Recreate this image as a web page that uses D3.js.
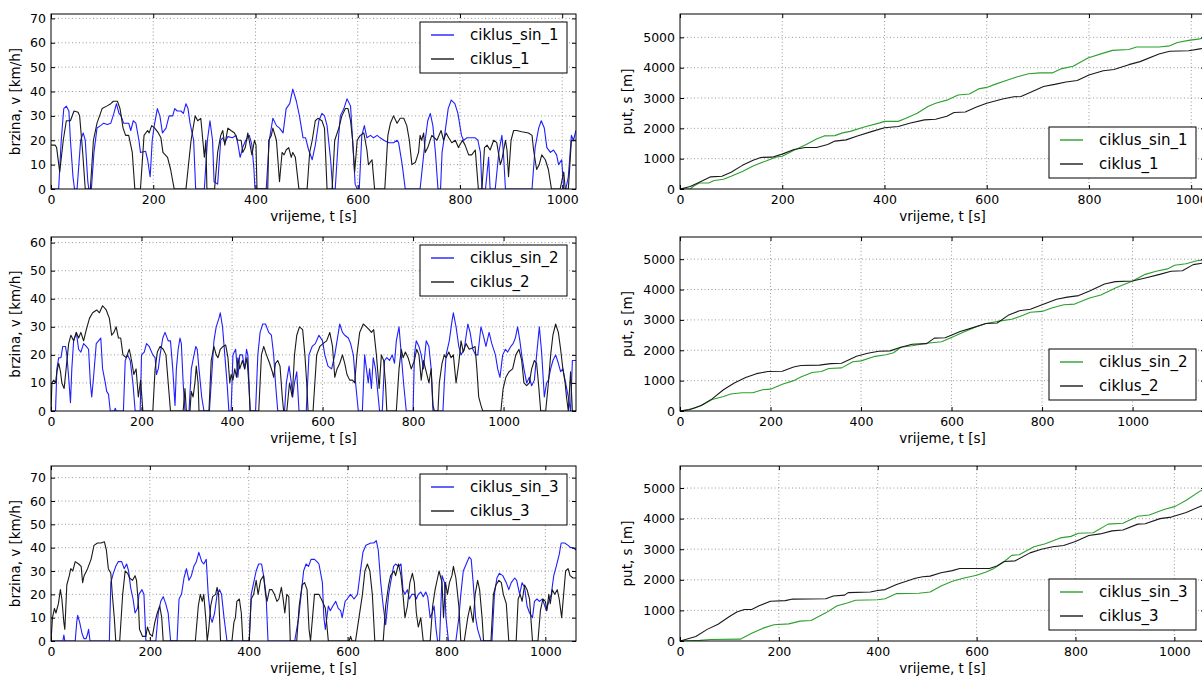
<!DOCTYPE html>
<html><head><meta charset="utf-8">
<script src="https://cdn.jsdelivr.net/npm/d3@7"></script>
<style>body{margin:0;background:#fff;overflow:hidden}</style>
</head><body>
<script>
// ---------- DATA ----------
const xTicks = [0, 200, 400, 600, 800, 1000];
const speedTicks1 = [0, 10, 20, 30, 40, 50, 60, 70];
const speedTicks2 = [0, 10, 20, 30, 40, 50, 60];
const speedTicks3 = [0, 10, 20, 30, 40, 50, 60, 70];
const distTicks = [0, 1000, 2000, 3000, 4000, 5000];
const cycleEnd = [1027, 1160, 1062];
const speedMax = [71.8, 62, 75];
const distMax = [5770, 5730, 5720];
const sinNames = ["ciklus_sin_1", "ciklus_sin_2", "ciklus_sin_3"];
const cycNames = ["ciklus_1", "ciklus_2", "ciklus_3"];

const ciklus1 = [[0,18],[8,18],[11,17],[17,7],[24,20],[30,28],[38,28],[45,32],[53,31.5],[56,30],[62,15],[67,0],[77,0],[83,20],[90,27],[100,33],[109,34],[117,35],[122,36],[130,36],[135,33],[141,25],[146,22],[152,22],[159,15],[164,0],[175,0],[182,22],[189,24],[192,23],[197,26],[203,25],[210,23],[215,21],[219,15],[228,13],[234,8],[241,0],[264,0],[274,20],[282,30],[287,28],[293,29],[297,20],[300,13],[303,20],[305,0],[320,0],[326,15],[332,22],[336,24],[340,18],[346,25],[352,24],[359,23],[365,20],[372,20],[375,15],[380,17],[385,23],[393,14],[398,20],[401,18],[403,0],[424,0],[426,20],[431,22],[434,25],[441,20],[447,3],[452,15],[456,14],[460,16],[465,17],[470,13],[473,15],[478,13],[485,0],[501,0],[506,15],[511,20],[517,28],[522,29],[530,28],[535,25],[540,0],[550,0],[555,20],[563,25],[569,30],[576,33],[581,33],[586,28],[590,20],[594,7],[599,20],[605,22],[612,23],[618,16],[621,10],[628,12],[633,0],[653,0],[659,22],[664,27],[670,30],[677,27],[683,29],[690,29],[696,26],[701,20],[706,10],[713,11],[719,15],[722,22],[725,20],[729,23],[732,15],[737,17],[745,22],[755,20],[763,24],[768,20],[773,23],[778,21],[784,19],[791,20],[797,17],[805,20],[810,18],[817,14],[823,14],[830,16],[836,0],[843,0],[848,17],[853,18],[859,16],[866,20],[872,19],[879,10],[882,12],[889,20],[892,16],[895,5],[900,20],[905,24],[911,24],[921,23.5],[934,23],[941,22],[944,16],[950,8],[955,10],[960,14],[967,12],[973,8],[979,0],[996,0],[1003,7],[1006,0],[1012,0],[1018,20],[1022,20],[1027,20]];
const ciklusSin1 = [[0,0],[15,0],[20,20],[25,33],[30,34],[35,32],[38,20],[43,5],[46,0],[51,0],[58,20],[63,23],[67,20],[72,3],[74,0],[79,0],[84,15],[90,25],[97,26],[103,27],[110,26.5],[117,27],[123,31],[128,35],[133,31],[137,30],[142,27],[152,27],[156,24],[161,28],[166,27],[172,20],[175,15],[185,15.5],[189,12],[194,5],[198,20],[202,26],[208,33],[213,30],[218,23],[225,25],[231,30],[238,30],[242,33],[247,32],[254,32],[259,31],[264,35],[268,33],[272,27],[279,20],[283,0],[300,0],[306,20],[311,28],[316,20],[319,3],[326,2],[332,20],[336,21],[340,19],[346,21.5],[355,21],[362,22],[366,18],[370,13],[375,17],[381,20],[388,22],[393,18],[397,8],[399,0],[421,0],[427,20],[434,29],[441,26],[447,25],[454,23],[460,33],[467,35],[473,41],[480,36],[486,30],[493,21],[498,21],[504,16],[511,12],[517,18],[524,28],[530,31],[535,30],[540,26],[547,12],[551,0],[556,0],[562,20],[566,30],[573,33],[579,37],[586,34],[590,20],[595,2],[599,0],[603,0],[608,22],[613,26],[618,21],[625,22],[631,21],[638,22],[644,21],[651,20],[661,19],[670,19],[677,20],[680,19],[687,10],[693,0],[722,0],[727,10],[732,20],[737,28],[742,31],[747,26],[752,15],[757,0],[762,0],[765,15],[770,22],[777,33],[783,36.5],[790,35],[796,31],[803,22],[807,20],[814,21],[820,21],[830,21],[835,20],[840,15],[843,0],[850,0],[856,13],[859,0],[869,0],[876,15],[882,22],[885,15],[889,0],[941,0],[947,17],[954,25],[959,28],[965,25],[970,17],[977,15],[983,16],[989,14],[993,10],[999,12],[1003,0],[1007,0],[1012,5],[1018,22],[1022,20],[1027,24]];

const ciklus2 = [[0,0],[2,10],[6,11],[10,10],[13,14],[17,17],[21,14],[24,10],[29,8],[34,16],[39,24],[44,27],[50,25],[56,28],[61,26],[66,28],[72,25],[78,29],[85,33],[92,35],[101,36],[107,35],[114,37.5],[122,36],[129,33],[134,27],[139,28],[144,30],[149,26],[154,26],[159,20],[166,19],[173,22],[178,18],[183,13],[188,15],[193,5],[198,11],[203,0],[225,0],[230,15],[235,21],[241,23],[248,22],[254,20],[259,10],[264,0],[292,0],[296,8],[299,0],[307,0],[310,7],[314,5],[318,10],[321,16],[325,10],[327,0],[349,0],[354,18],[360,23],[365,20],[369,19],[374,22],[380,23],[386,23.5],[391,19],[395,10],[398,13],[402,11],[406,15],[410,12],[413,19],[417,15],[423,18],[428,15],[433,19],[437,10],[440,0],[459,0],[465,20],[470,23],[476,20],[483,17],[489,14],[492,12],[496,17],[501,18],[506,16],[511,5],[514,0],[521,0],[527,10],[533,5],[538,20],[543,27],[549,30],[556,29],[561,20],[565,10],[568,0],[579,0],[587,20],[594,23],[601,24],[609,25],[616,28],[622,23],[627,12],[632,15],[638,17],[644,20],[649,17],[654,13],[660,11],[666,11],[671,10],[676,20],[682,28],[690,31],[697,30],[703,29],[708,28],[713,29],[719,20],[725,8],[730,20],[735,18],[739,10],[742,0],[763,0],[769,15],[774,22],[778,19],[783,21],[789,19],[796,15],[803,18],[808,22],[813,20],[818,11],[823,18],[829,14],[835,10],[840,15],[844,2],[847,0],[855,0],[858,10],[864,17],[869,20],[873,19],[879,21],[884,19],[889,20],[895,10],[901,17],[906,25],[911,21],[917,24],[924,22],[932,22.5],[937,23],[941,15],[945,5],[950,2],[954,0],[994,0],[999,8],[1005,12],[1012,14],[1020,15],[1027,20],[1034,22],[1040,18],[1045,10],[1051,9],[1057,10],[1062,15],[1068,18],[1073,17],[1077,10],[1082,0],[1093,0],[1099,10],[1104,20],[1109,27],[1115,31],[1121,28],[1126,22],[1131,15],[1136,10],[1139,5],[1143,0],[1148,14],[1152,0],[1160,0]];
const ciklusSin2 = [[0,0],[10,0],[13,15],[17,19],[22,19],[26,23],[32,23],[35,20],[39,12],[43,3],[46,15],[50,25],[56,28],[61,22],[66,21],[72,24],[78,23],[83,22],[87,10],[90,5],[94,12],[100,24],[105,25],[110,26],[114,15],[120,10],[123,7],[127,6],[131,0],[140,0],[142,1],[144,0],[160,0],[164,18],[169,20],[175,18],[181,10],[186,0],[197,0],[200,20],[206,21],[211,24],[217,23],[225,20],[230,19],[233,13],[237,15],[241,20],[247,26],[252,28],[259,25],[264,25],[269,15],[274,2],[277,15],[281,22],[285,26],[288,24],[292,10],[296,0],[305,0],[310,15],[316,20],[320,23],[323,22],[327,15],[333,5],[338,0],[350,0],[354,10],[360,25],[365,30],[371,33],[374,35],[379,30],[384,20],[389,10],[393,0],[398,0],[402,20],[408,22],[413,12],[417,20],[423,20],[428,15],[432,22],[435,20],[440,0],[452,0],[457,20],[462,28],[468,31],[474,31],[481,28],[487,27],[492,20],[496,10],[501,0],[516,0],[520,10],[526,16],[531,10],[534,5],[538,10],[543,14],[548,0],[564,0],[570,20],[577,23],[584,24],[592,27],[600,25],[605,20],[612,16],[620,15],[627,20],[632,25],[638,31],[644,28],[649,27],[657,26],[662,24],[668,20],[673,10],[679,0],[688,0],[693,20],[697,15],[701,10],[704,15],[708,8],[712,19],[717,15],[723,5],[726,0],[732,0],[737,18],[742,19],[748,18],[754,20],[759,17],[763,25],[769,30],[774,20],[779,10],[785,0],[800,0],[803,20],[807,25],[813,23],[818,20],[823,15],[829,25],[835,23],[840,15],[844,0],[866,0],[869,10],[873,20],[880,25],[886,32],[889,35],[895,30],[901,23],[906,20],[913,22],[921,31],[926,28],[932,22],[938,20],[943,20],[950,30],[955,27],[961,23],[968,28],[974,24],[982,20],[987,15],[992,12],[998,20],[1004,22],[1009,21],[1016,23],[1021,24],[1026,26],[1031,30],[1036,25],[1040,20],[1045,15],[1051,10],[1057,12],[1062,9],[1068,11],[1073,20],[1079,30],[1084,21],[1090,5],[1095,10],[1099,11],[1104,15],[1109,18],[1115,20],[1121,17],[1126,14],[1131,15],[1137,10],[1143,5],[1148,0],[1152,18],[1160,18]];

const ciklus3 = [[0,0],[3,10],[7,14],[10,12],[15,16],[19,22],[22,18],[26,8],[28,5],[32,24],[37,28],[40,31],[44,30],[49,34],[56,33],[61,32],[64,25],[67,28],[74,31],[81,35],[87,41],[94,42],[101,42],[108,42.5],[112,39],[116,31],[121,29],[124,20],[128,10],[131,0],[139,0],[145,20],[150,30],[155,29],[159,27],[165,26],[170,28],[173,26],[177,15],[179,5],[185,2],[192,2],[195,6],[200,3],[205,2],[210,8],[215,12],[220,15],[224,10],[227,0],[292,0],[298,15],[302,20],[306,17],[309,20],[313,10],[316,0],[319,5],[323,15],[327,19],[333,20],[336,23],[339,20],[343,0],[366,0],[370,8],[373,10],[376,17],[381,18],[385,12],[388,0],[401,0],[405,18],[410,20],[415,26],[419,20],[424,26],[430,28],[434,20],[437,17],[442,22],[447,22],[452,20],[457,17],[461,18],[466,23],[469,19],[473,12],[477,20],[481,19],[484,0],[497,0],[502,15],[508,24],[513,25],[518,22],[522,5],[525,0],[529,10],[533,20],[538,20],[542,20],[549,17],[555,14],[561,0],[603,0],[606,2],[609,0],[616,0],[623,10],[630,20],[635,30],[640,33],[645,30],[650,20],[655,0],[672,0],[677,15],[683,24],[687,28],[694,30],[697,28],[703,33],[708,28],[712,20],[716,10],[721,15],[726,25],[731,29],[735,25],[739,12],[743,6],[748,10],[753,0],[767,0],[772,15],[777,22],[782,27],[785,30],[791,25],[794,10],[798,25],[802,20],[806,25],[811,28],[814,32],[819,27],[825,15],[829,0],[836,0],[843,10],[848,15],[852,10],[854,8],[858,20],[863,26],[867,22],[872,10],[875,0],[890,0],[895,20],[900,24],[906,26],[911,25],[915,20],[921,16],[926,0],[941,0],[945,18],[949,20],[953,17],[958,24],[963,22],[968,18],[974,0],[985,0],[990,13],[995,18],[1000,17],[1003,13],[1007,20],[1010,16],[1014,22],[1019,20],[1024,22],[1028,18],[1033,10],[1037,20],[1041,30],[1046,31],[1050,28],[1056,27],[1062,27]];
const ciklusSin3 = [[0,0],[24,0],[26,2.5],[28,0],[49,0],[52,8],[54,11],[58,8],[63,3],[67,1],[71,1],[74,3],[76,5],[79,0],[118,0],[121,25],[126,29],[131,32],[136,34],[143,34],[148,31],[153,33],[157,30],[161,23],[166,18],[170,12],[175,14],[178,20],[184,22],[188,20],[192,0],[212,0],[217,12],[222,17],[227,19],[232,16],[237,12],[242,0],[255,0],[259,18],[264,20],[269,27],[274,31],[279,26],[284,28],[289,32],[294,34],[299,38],[305,34],[309,33],[314,35],[318,20],[323,10],[326,8],[331,12],[336,20],[341,22],[345,20],[350,10],[356,0],[401,0],[405,20],[410,25],[415,30],[420,33],[426,33],[430,28],[435,20],[439,0],[493,0],[497,5],[501,10],[506,20],[511,30],[516,33],[521,32],[526,35],[533,35],[538,34],[542,33],[549,25],[552,10],[555,5],[561,15],[565,13],[570,15],[576,17],[581,14],[586,13],[589,10],[595,17],[599,18],[606,20],[613,18],[620,20],[626,30],[631,38],[637,41],[647,42],[653,42],[658,43],[662,39],[667,25],[672,15],[677,7],[683,20],[687,25],[693,32],[697,33],[703,32],[708,33],[712,22],[716,20],[721,22],[725,18],[730,20],[735,20],[739,18],[743,20],[748,21],[753,19],[758,21],[762,19],[767,10],[771,12],[775,15],[779,5],[782,0],[786,0],[791,28],[796,25],[799,10],[804,0],[819,0],[825,10],[829,20],[834,30],[840,33],[846,36],[850,35],[854,25],[859,10],[863,5],[870,0],[892,0],[897,20],[902,27],[907,29],[914,28],[921,25],[926,22],[931,25],[938,27],[942,26],[948,20],[953,25],[958,23],[963,15],[968,12],[974,10],[978,17],[983,18],[988,17],[994,18],[999,15],[1002,13],[1007,17],[1012,20],[1017,28],[1022,32],[1028,37],[1032,42],[1039,42],[1046,41],[1051,40],[1056,40],[1062,39]];

const putSin1 = [[0,0],[20,0],[27,100],[38,200],[56,200],[67,280],[85,320],[100,420],[122,580],[143,760],[172,950],[187,1050],[200,1080],[223,1280],[245,1450],[267,1650],[282,1750],[303,1760],[318,1850],[333,1900],[362,2050],[391,2180],[400,2230],[427,2230],[442,2330],[464,2500],[485,2720],[500,2830],[522,2930],[544,3100],[566,3130],[584,3300],[600,3350],[616,3450],[638,3580],[660,3700],[682,3800],[704,3830],[729,3830],[747,3970],[769,4050],[798,4320],[828,4480],[846,4570],[878,4600],[893,4680],[937,4680],[958,4720],[973,4830],[995,4900],[1017,4950],[1027,5000]];
const put1 = [[0,0],[20,80],[41,250],[60,400],[82,420],[100,550],[122,780],[143,950],[158,1040],[180,1050],[200,1150],[223,1300],[245,1370],[267,1370],[289,1470],[303,1580],[325,1620],[347,1750],[376,1900],[400,2020],[427,2060],[449,2170],[478,2280],[500,2300],[522,2400],[536,2520],[558,2540],[580,2700],[600,2830],[631,2970],[653,3040],[667,3050],[697,3270],[711,3380],[733,3450],[755,3530],[777,3580],[800,3760],[828,3900],[849,3940],[878,4100],[900,4200],[937,4450],[958,4540],[995,4560],[1017,4620],[1027,4650]];
const putSin2 = [[0,0],[30,80],[47,180],[71,380],[96,480],[112,560],[137,600],[161,600],[182,700],[200,720],[226,880],[251,1000],[267,1120],[292,1270],[312,1300],[329,1400],[357,1420],[382,1620],[400,1650],[431,1800],[455,1850],[472,1920],[488,2100],[513,2150],[545,2230],[578,2280],[601,2430],[627,2600],[652,2760],[676,2880],[701,2950],[733,3020],[758,3150],[774,3250],[800,3280],[823,3400],[848,3500],[872,3520],[905,3720],[930,3820],[962,4050],[1000,4280],[1028,4500],[1052,4600],[1077,4680],[1093,4800],[1118,4850],[1142,4950],[1160,4980]];
const put2 = [[0,0],[20,40],[47,180],[71,400],[96,700],[120,920],[145,1100],[169,1230],[194,1300],[226,1310],[251,1450],[267,1500],[308,1510],[333,1560],[357,1570],[390,1800],[415,1900],[439,1970],[464,1980],[488,2100],[513,2200],[545,2220],[562,2400],[586,2410],[619,2620],[644,2730],[676,2880],[701,2900],[725,3150],[750,3300],[774,3350],[800,3500],[832,3680],[856,3750],[881,3800],[905,3950],[938,4180],[962,4260],[1000,4280],[1028,4380],[1060,4500],[1085,4600],[1110,4620],[1134,4820],[1160,4880]];
const putSin3 = [[0,0],[40,20],[62,50],[122,60],[145,250],[168,420],[190,530],[220,560],[243,650],[265,670],[295,920],[318,1150],[340,1250],[355,1330],[400,1350],[415,1380],[438,1550],[483,1560],[506,1600],[528,1800],[551,1950],[573,2050],[600,2150],[618,2250],[633,2350],[656,2600],[671,2800],[686,2820],[716,3080],[739,3180],[769,3370],[791,3420],[806,3520],[836,3540],[866,3820],[896,3850],[926,4080],[949,4120],[979,4300],[1002,4400],[1024,4600],[1052,4900],[1062,4950]];
const put3 = [[0,0],[32,150],[55,380],[77,550],[100,800],[115,950],[130,1030],[145,1030],[160,1150],[183,1300],[213,1320],[228,1370],[295,1380],[310,1470],[333,1500],[340,1580],[385,1600],[400,1650],[415,1680],[438,1850],[476,2050],[491,2100],[506,2120],[528,2230],[551,2300],[566,2370],[626,2370],[641,2450],[656,2600],[678,2620],[708,2880],[731,3000],[754,3080],[776,3120],[800,3250],[827,3450],[850,3500],[874,3600],[896,3630],[926,3820],[941,3830],[971,4000],[994,4050],[1024,4200],[1052,4400],[1062,4420]];

// ---------- LAYOUT ----------
const W = 1202, H = 676;
const rows = [{top:14, bottom:189}, {top:237, bottom:411}, {top:466, bottom:641}];
const colLeft = [51, 680];
const panelW = 525;
const BLUE = "#1f1fff", BLACK = "#1a1a1a", GREEN = "#2ca02c";

const svg = d3.select("body").append("svg")
  .attr("width", W).attr("height", H)
  .style("font-family", "'DejaVu Sans', sans-serif");

let clipId = 0;
function panel(opt) {
  const {x0, top, bottom, xmax, ymax, yTicks, series, ylabel, legendPos} = opt;
  const x = d3.scaleLinear().domain([0, xmax]).range([x0, x0 + panelW]);
  const y = d3.scaleLinear().domain([0, ymax]).range([bottom, top]);
  const g = svg.append("g");

  // grid
  const grid = g.append("g").attr("stroke", "#808080").attr("stroke-width", 0.8)
    .attr("stroke-dasharray", "1,2.5");
  xTicks.filter(t => t > 0 && t < xmax).forEach(t => {
    grid.append("line").attr("x1", x(t)).attr("x2", x(t)).attr("y1", top).attr("y2", bottom);
  });
  yTicks.filter(t => t > 0 && t < ymax).forEach(t => {
    grid.append("line").attr("x1", x0).attr("x2", x0 + panelW).attr("y1", y(t)).attr("y2", y(t));
  });

  // lines
  const id = "clip" + (clipId++);
  g.append("clipPath").attr("id", id).append("rect")
    .attr("x", x0).attr("y", top).attr("width", panelW).attr("height", bottom - top);
  const line = d3.line().x(d => x(d[0])).y(d => y(d[1]));
  series.forEach(s => {
    g.append("path").attr("clip-path", `url(#${id})`).datum(s.data)
      .attr("fill", "none").attr("stroke", s.color).attr("stroke-width", 1.1)
      .attr("stroke-linejoin", "round").attr("d", line);
  });

  // axes
  const ax = g.append("g").attr("font-size", 12.5);
  const bottomAxis = d3.axisBottom(x).tickValues(xTicks).tickSizeInner(-4).tickSizeOuter(0).tickPadding(6).tickFormat(d3.format("d"));
  const ab = ax.append("g").attr("transform", `translate(0,${bottom})`).call(bottomAxis);
  const leftAxis = d3.axisLeft(y).tickValues(yTicks).tickSizeInner(-4).tickSizeOuter(0).tickPadding(5).tickFormat(d3.format("d"));
  const al = ax.append("g").attr("transform", `translate(${x0},0)`).call(leftAxis);
  const at = ax.append("g").attr("transform", `translate(0,${top})`).call(d3.axisTop(x).tickValues(xTicks).tickSizeInner(-4).tickSizeOuter(0).tickFormat(""));
  const ar = ax.append("g").attr("transform", `translate(${x0 + panelW},0)`).call(d3.axisRight(y).tickValues(yTicks).tickSizeInner(-4).tickSizeOuter(0).tickFormat(""));
  [ab, al, at, ar].forEach(a => {
    a.select(".domain").remove();
    a.attr("font-family", null).attr("font-size", null);
    a.selectAll("text").attr("fill", "#000");
    a.selectAll("line").attr("stroke", "#000");
  });

  // frame
  g.append("rect").attr("x", x0).attr("y", top).attr("width", panelW).attr("height", bottom - top)
    .attr("fill", "none").attr("stroke", "#000").attr("stroke-width", 1);

  // labels
  g.append("text").attr("x", x0 + panelW / 2).attr("y", bottom + 32)
    .attr("text-anchor", "middle").attr("font-size", 13.5).text("vrijeme, t [s]");
  const ly = (top + bottom) / 2;
  g.append("text").attr("transform", `translate(${x0 - opt.ylabelOff},${ly}) rotate(-90)`)
    .attr("text-anchor", "middle").attr("font-size", 13.5).text(ylabel);

  // legend
  const lw = 147, lh = 51;
  const lx = legendPos.x, lyTop = legendPos.y;
  const lg = g.append("g");
  lg.append("rect").attr("x", lx).attr("y", lyTop).attr("width", lw).attr("height", lh)
    .attr("fill", "#fff").attr("stroke", "#000").attr("stroke-width", 1);
  series.forEach((s, i) => {
    const yy = lyTop + 13 + i * 24;
    lg.append("line").attr("x1", lx + 11).attr("x2", lx + 34).attr("y1", yy).attr("y2", yy)
      .attr("stroke", s.color).attr("stroke-width", 1.4);
    lg.append("text").attr("x", lx + 50).attr("y", yy).attr("dy", "0.35em")
      .attr("font-size", 15).text(s.name);
  });
}

const speedSets = [[ciklusSin1, ciklus1], [ciklusSin2, ciklus2], [ciklusSin3, ciklus3]];
const distSets = [[putSin1, put1], [putSin2, put2], [putSin3, put3]];
const speedTickSets = [speedTicks1, speedTicks2, speedTicks3];

rows.forEach((r, i) => {
  panel({
    x0: colLeft[0], top: r.top, bottom: r.bottom, xmax: cycleEnd[i], ymax: speedMax[i],
    yTicks: speedTickSets[i], ylabel: "brzina, v [km/h]", ylabelOff: 31,
    series: [
      {name: sinNames[i], data: speedSets[i][0], color: BLUE},
      {name: cycNames[i], data: speedSets[i][1], color: BLACK}
    ],
    legendPos: {x: colLeft[0] + panelW - 156, y: r.top + 8}
  });
  panel({
    x0: colLeft[1], top: r.top, bottom: r.bottom, xmax: cycleEnd[i], ymax: distMax[i],
    yTicks: distTicks, ylabel: "put, s [m]", ylabelOff: 48,
    series: [
      {name: sinNames[i], data: distSets[i][0], color: GREEN},
      {name: cycNames[i], data: distSets[i][1], color: BLACK}
    ],
    legendPos: {x: colLeft[1] + panelW - 156, y: r.bottom - 11 - 51}
  });
});
</script>
</body></html>
